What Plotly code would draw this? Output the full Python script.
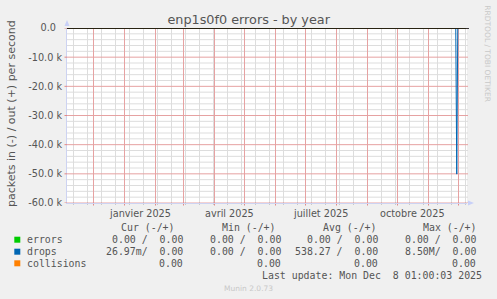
import pandas as pd
import plotly.graph_objects as go

# ---- data ----
times = ["2024-11-04 12:00", "2025-11-28 06:00", "2025-11-29 06:00", "2025-11-30 06:00", "2025-12-08 01:00"]
errors_in = [0, 0, 0, 0, 0]
drops_in = [0, 0, -50100, 0, 0]
collisions = [0, 0, 0, 0, 0]

x_range = ["2024-11-04 12:00", "2025-12-09 12:00"]
y_range = [-60000, 0]
ytick_vals = [0, -10000, -20000, -30000, -40000, -50000, -60000]
ytick_text = ["0.0\u00a0\u00a0", "-10.0 k", "-20.0 k", "-30.0 k", "-40.0 k", "-50.0 k", "-60.0 k"]
xlabel_dates = ["2025-01-16", "2025-04-16", "2025-07-16", "2025-10-16"]
xlabel_text = ["janvier 2025", "avril 2025", "juillet 2025", "octobre 2025"]

legend_names = ["errors", "drops", "collisions"]
legend_colors = ["#00CC00", "#0066B3", "#FF8000"]
col_headers = ["Cur (-/+)", "Min (-/+)", "Avg (-/+)", "Max (-/+)"]
cur_vals = ["0.00 /  0.00", "26.97m/  0.00", "0.00"]
min_vals = ["0.00 /  0.00", "0.00 /  0.00", "0.00"]
avg_vals = ["0.00 /  0.00", "538.27 /  0.00", "0.00"]
max_vals = ["0.00 /  0.00", "8.50M/  0.00", "0.00"]
last_update = "Last update: Mon Dec  8 01:00:03 2025"

title = "enp1s0f0 errors - by year"
ylabel = "packets in (-) / out (+) per second"

# grid positions (monthly major, fortnightly minor; 10k major, 2k minor)
month_grid = [d.strftime("%Y-%m-%d") for d in pd.date_range("2024-12-01", "2025-12-01", freq="MS")]
fortnight_grid = [d.strftime("%Y-%m-%d") for d in pd.date_range("2024-11-11", "2025-12-09", freq="14D")]
ymajor_grid = list(range(-60000, 1, 10000))
yminor_grid = [v for v in range(-60000, 1, 2000) if v % 10000 != 0]

# ---- geometry helpers (pixel -> paper) ----
W, H = 497, 299
L, R, T, B = 67, 467, 28, 203


def px(x):
    return (x - L) / (R - L)


def py(y):
    return (B - y) / (B - T)


def nb(s):
    return s.replace(" ", "\u00a0")


TXT = "#555555"
MAJ = "#E6A2A2"
MIN = "#DDDDDD"
MAJT = "#E08888"
MINT = "#C8C8C8"
AX = "#CDD3F2"

fig = go.Figure()
for name, vals, col in zip(legend_names, [errors_in, drops_in, collisions], legend_colors):
    fig.add_trace(go.Scatter(x=times, y=vals, mode="lines", name=name,
                             line=dict(color=col, width=1), hoverinfo="skip"))

shapes = []
# minor grid
for d in fortnight_grid:
    if d in month_grid:
        continue
    shapes.append(dict(type="line", xref="x", yref="paper", x0=d, x1=d, y0=0, y1=1,
                       line=dict(color=MIN, width=1), layer="below"))
    shapes.append(dict(type="line", xref="x", yref="paper", x0=d, x1=d, y0=py(B + 2), y1=py(B - 1),
                       line=dict(color=MINT, width=1), layer="below"))
for v in yminor_grid:
    shapes.append(dict(type="line", xref="paper", yref="y", x0=0, x1=px(468), y0=v, y1=v,
                       line=dict(color=MIN, width=1), layer="below"))
# major grid
for d in month_grid:
    shapes.append(dict(type="line", xref="x", yref="paper", x0=d, x1=d, y0=0, y1=1,
                       line=dict(color=MAJ, width=1), layer="below"))
    shapes.append(dict(type="line", xref="x", yref="paper", x0=d, x1=d, y0=py(B + 2.5), y1=py(B - 1),
                       line=dict(color=MAJT, width=1), layer="below"))
for v in ymajor_grid:
    shapes.append(dict(type="line", xref="paper", yref="y", x0=0, x1=px(468), y0=v, y1=v,
                       line=dict(color=MAJ, width=1), layer="below"))
    shapes.append(dict(type="line", xref="paper", yref="y", x0=px(L - 2.5), x1=px(L), y0=v, y1=v,
                       line=dict(color=MAJT, width=1)))

shapes += [
    dict(type="line", xref="paper", yref="y", x0=0, x1=px(469), y0=0, y1=0,
         line=dict(color="#000000", width=1.3), layer="above"),
    dict(type="path", xref="paper", yref="paper",
         path=f"M {px(64.5)} {py(26)} L {px(69.5)} {py(26)} L {px(67)} {py(20)} Z",
         fillcolor="#C8D0F8", line=dict(width=0)),
    dict(type="path", xref="paper", yref="paper",
         path=f"M {px(468)} {py(200.5)} L {px(468)} {py(205.5)} L {px(474)} {py(203)} Z",
         fillcolor="#C8D0F8", line=dict(width=0)),
]

ann = []
for d, t in zip(xlabel_dates, xlabel_text):
    ann.append(dict(x=d, xref="x", y=py(213), yref="paper", text=t, showarrow=False,
                    xanchor="center", yanchor="middle",
                    font=dict(family="DejaVu Sans", size=9.7, color=TXT)))

ann.append(dict(x=px(11.5), y=py(113.5), xref="paper", yref="paper", text=ylabel,
                textangle=-90, showarrow=False, xanchor="center", yanchor="middle",
                font=dict(family="DejaVu Sans", size=11, color=TXT)))

mono = dict(family="DejaVu Sans Mono", size=9.9, color=TXT)
header_x = [120.3, 221.0, 321.6, 422.0]
for hx, h in zip(header_x, col_headers):
    ann.append(dict(x=px(hx), y=py(227), xref="paper", yref="paper", text=nb(h),
                    showarrow=False, xanchor="left", yanchor="middle", font=mono, borderpad=0))

row_y = [239.7, 251.7, 263.3]
col_right = [184.0, 282.4, 379.0, 477.4]
for i, name in enumerate(legend_names):
    yy = row_y[i]
    shapes.append(dict(type="rect", xref="paper", yref="paper",
                       x0=px(14.3), x1=px(20.3), y0=py(yy + 3), y1=py(yy - 3),
                       fillcolor=legend_colors[i], line=dict(width=0)))
    ann.append(dict(x=px(26.0), y=py(yy), xref="paper", yref="paper", text=name,
                    showarrow=False, xanchor="left", yanchor="middle", font=mono, borderpad=0))
    for cx, vals in zip(col_right, [cur_vals, min_vals, avg_vals, max_vals]):
        ann.append(dict(x=px(cx), y=py(yy), xref="paper", yref="paper", text=nb(vals[i]),
                        showarrow=False, xanchor="right", yanchor="middle", font=mono, borderpad=0))

ann.append(dict(x=px(483), y=py(275.3), xref="paper", yref="paper", text=nb(last_update),
                showarrow=False, xanchor="right", yanchor="middle", font=mono, borderpad=0))
ann.append(dict(x=px(248), y=py(288), xref="paper", yref="paper", text="Munin 2.0.73",
                showarrow=False, xanchor="center", yanchor="middle",
                font=dict(family="DejaVu Sans", size=7.5, color="#C8C8C8")))
ann.append(dict(x=px(488), y=py(53.3), xref="paper", yref="paper", text="RRDTOOL / TOBI OETIKER",
                textangle=90, showarrow=False, xanchor="center", yanchor="middle",
                font=dict(family="DejaVu Sans", size=7.5, color="#C8C8C8")))

fig.update_layout(
    width=W, height=H,
    margin=dict(l=L, r=W - R, t=T, b=H - B, pad=0),
    paper_bgcolor="#F0F0F0", plot_bgcolor="#FFFFFF",
    showlegend=False,
    title=dict(text=title, x=248.7 / W, xref="container", xanchor="center",
               y=1 - 20 / H, yref="container", yanchor="middle",
               font=dict(family="DejaVu Sans", size=12.8, color=TXT)),
    xaxis=dict(type="date", range=x_range, showgrid=False, showticklabels=False, ticks="",
               showline=True, linecolor=AX, linewidth=1, zeroline=False),
    yaxis=dict(range=y_range, tickmode="array", tickvals=ytick_vals, ticktext=ytick_text,
               showgrid=False, ticks="outside", ticklen=2, tickcolor="rgba(0,0,0,0)",
               showline=True, linecolor=AX, linewidth=1, zeroline=False,
               tickfont=dict(family="DejaVu Sans", size=9.7, color=TXT)),
    shapes=shapes,
    annotations=ann,
)

fig.write_html("out.html")
